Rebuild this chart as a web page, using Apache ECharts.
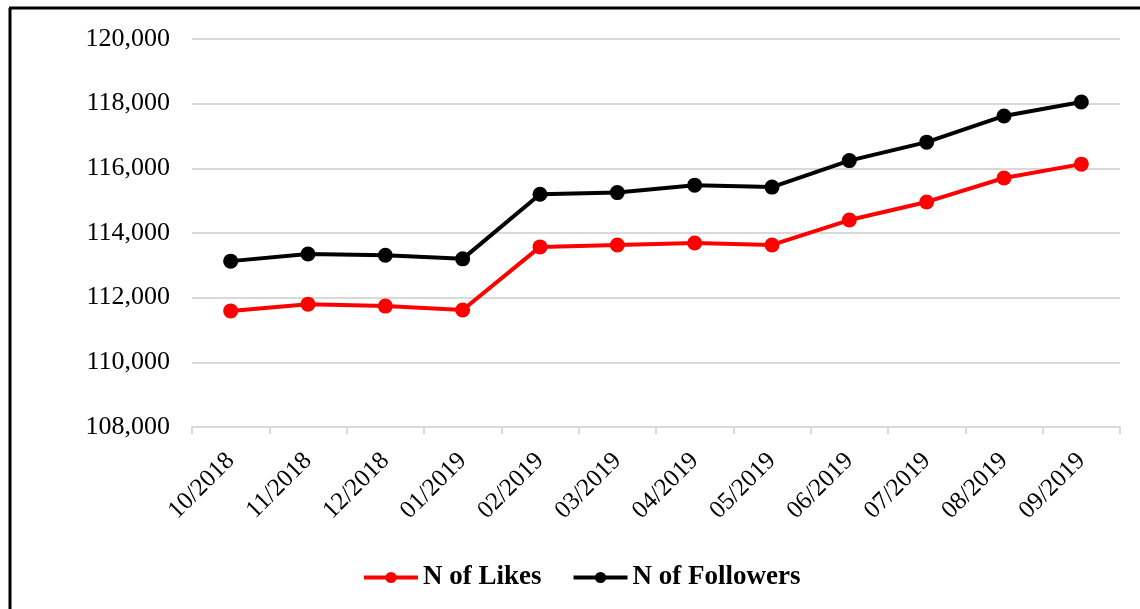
<!DOCTYPE html>
<html>
<head>
<meta charset="utf-8">
<style>
  html, body { margin: 0; padding: 0; background: #fff; }
  #chart { width: 1140px; height: 609px; }
</style>
<script src="https://cdn.jsdelivr.net/npm/echarts@6/dist/echarts.min.js"></script>
</head>
<body>
<div id="chart"></div>
<script>
// Monthly categories
const months = ['10/2018', '11/2018', '12/2018', '01/2019', '02/2019', '03/2019',
                '04/2019', '05/2019', '06/2019', '07/2019', '08/2019', '09/2019'];

// Page likes per month
const likes = [111590, 111800, 111740, 111620, 113570, 113630,
               113690, 113630, 114400, 114960, 115700, 116130];

// Page followers per month
const followers = [113130, 113350, 113310, 113200, 115200, 115250,
                   115480, 115420, 116240, 116810, 117620, 118050];

// Value axis range
const yMin = 108000;
const yMax = 120000;
const yStep = 2000;

const serif = '"Liberation Serif", "Times New Roman", serif';

const chart = echarts.init(document.getElementById('chart'), null, { renderer: 'canvas' });

chart.setOption({
  animation: false,
  backgroundColor: '#ffffff',
  textStyle: { fontFamily: serif },
  grid: { left: 192, right: 20, top: 39, bottom: 182, containLabel: false },
  legend: {
    bottom: 13,
    left: 357,
    itemWidth: 54,
    itemHeight: 14,
    itemGap: 30,
    lineStyle: { width: 4 },
    textStyle: { fontFamily: serif, fontSize: 27, fontWeight: 'bold', color: '#000' },
    data: ['N of Likes', 'N of Followers']
  },
  xAxis: {
    type: 'category',
    data: months,
    boundaryGap: true,
    axisLine: { lineStyle: { color: '#d9d9d9', width: 2 } },
    axisTick: { show: true, length: 7, lineStyle: { color: '#d9d9d9', width: 2 } },
    axisLabel: {
      rotate: 45,
      margin: 30,
      color: '#000',
      fontFamily: serif,
      fontSize: 25,
      interval: 0
    },
    splitLine: { show: false }
  },
  yAxis: {
    type: 'value',
    min: yMin,
    max: yMax,
    interval: yStep,
    axisLine: { show: false },
    axisTick: { show: false },
    axisLabel: {
      color: '#000',
      fontFamily: serif,
      fontSize: 26,
      margin: 22,
      formatter: v => v.toLocaleString('en-US')
    },
    splitLine: { lineStyle: { color: '#d9d9d9', width: 2 } }
  },
  series: [
    {
      name: 'N of Likes',
      type: 'line',
      data: likes,
      symbol: 'circle',
      symbolSize: 15,
      color: '#ff0000',
      lineStyle: { color: '#ff0000', width: 4 },
      itemStyle: { color: '#ff0000' },
      z: 3
    },
    {
      name: 'N of Followers',
      type: 'line',
      data: followers,
      symbol: 'circle',
      symbolSize: 15,
      color: '#000000',
      lineStyle: { color: '#000000', width: 4 },
      itemStyle: { color: '#000000' },
      z: 4
    }
  ],
  graphic: [
    // frame along the top and left edges
    { type: 'line', shape: { x1: 9, y1: 8, x2: 1140, y2: 8 }, style: { stroke: '#000', lineWidth: 3 } },
    { type: 'line', shape: { x1: 10, y1: 8, x2: 10, y2: 609 }, style: { stroke: '#000', lineWidth: 3 } }
  ]
});
</script>
</body>
</html>
